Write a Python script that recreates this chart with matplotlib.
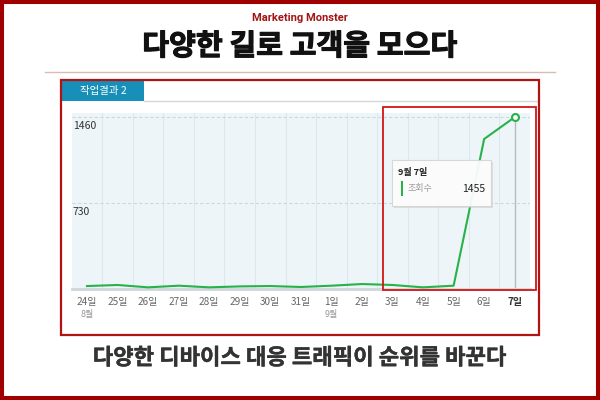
import numpy as np
import matplotlib.pyplot as plt
import matplotlib.patheffects as pe
from matplotlib.patches import Rectangle

plt.rcParams['font.family'] = ['Noto Sans CJK KR', 'DejaVu Sans']

# data
days = ['24일', '25일', '26일', '27일', '28일', '29일', '30일', '31일',
        '1일', '2일', '3일', '4일', '5일', '6일', '7일']
months = {0: '8월', 8: '9월'}
views = [25, 34, 14, 28, 14, 22, 25, 17, 28, 42, 34, 14, 28, 1270, 1455]
yticks = [730, 1460]

brand = 'Marketing Monster'
title = '다양한 길로 고객을 모으다'
subtitle = '다양한 디바이스 대응 트래픽이 순위를 바꾼다'
tab_label = '작업결과 2'
tip_date = '9월 7일'
tip_name = '조회수'

W, H = 600, 400
green = '#27b24a'
red = '#b31212'

fig = plt.figure(figsize=(6, 4), dpi=100)
fig.patch.set_facecolor('white')

# background layer in pixel coords
bg = fig.add_axes([0, 0, 1, 1], zorder=0)
bg.set_xlim(0, W)
bg.set_ylim(H, 0)
bg.axis('off')

bg.add_patch(Rectangle((0, 0), W, H, fill=False, ec='#a00000', lw=5.8))
bg.text(300, 18, brand, ha='center', va='center', color='#a31515',
        fontsize=8, fontweight='bold', family=['Roboto', 'DejaVu Sans'])
bg.text(300, 46, title, ha='center', va='center', color='#111111',
        fontsize=21, fontweight='bold',
        path_effects=[pe.withStroke(linewidth=0.8, foreground='#111111')])
bg.plot([45, 555], [72, 72], color='#d9bcb4', lw=1)
bg.text(300, 358, subtitle, ha='center', va='center', color='#333333',
        fontsize=16, fontweight='bold',
        path_effects=[pe.withStroke(linewidth=0.3, foreground='#333333')])

# tab
bg.add_patch(Rectangle((62, 81), 82, 20, color='#178fb8', lw=0))
bg.text(103, 91, tab_label, ha='center', va='center', color='white', fontsize=7.5)
bg.plot([144, 538], [101, 101], color='#d6d6d6', lw=1)

# chart
ax = fig.add_axes([71.7 / W, (H - 289) / H, (530 - 71.7) / W, (289 - 113) / H], zorder=1)
x = np.arange(len(days))
ax.set_xlim(-0.5, len(days) - 0.5)
ax.set_ylim(0, 1490)
ax.set_facecolor('#eef5f8')
for s in ['top', 'right', 'left']:
    ax.spines[s].set_visible(False)
ax.spines['bottom'].set_color('#cfd6da')
ax.spines['bottom'].set_linewidth(2)

for xv in x[:-1] + 0.5:
    ax.axvline(xv, color='#dbe8ee', lw=0.8, zorder=1)
for yv in yticks:
    ax.axhline(yv, color='#c9d9e0', lw=0.8, ls=(0, (3, 2)), zorder=1)
    ax.text(0.002, yv - 40, str(yv), transform=ax.get_yaxis_transform(),
            ha='left', va='top', fontsize=7.5, color='#333333')

ax.axvline(x[-1], color='#b4bcc0', lw=1, zorder=2)
ax.plot(x, views, color=green, lw=1.5, zorder=3)
ax.plot(x[-1], views[-1], 'o', ms=5, mfc='white', mec=green, mew=1.5, zorder=4)

ax.set_yticks([])
ax.set_xticks(x)
ax.set_xticklabels(days, fontsize=7.2, color='#666666')
ax.tick_params(axis='x', length=0, pad=6)
last = ax.get_xticklabels()[-1]
last.set_fontweight('bold')
last.set_color('#333333')
for i, m in months.items():
    ax.text(x[i], -0.145, m, transform=ax.get_xaxis_transform(),
            ha='center', va='center', fontsize=6.5, color='#9a9a9a')

# overlay layer: highlight boxes and tooltip
top = fig.add_axes([0, 0, 1, 1], zorder=2)
top.set_xlim(0, W)
top.set_ylim(H, 0)
top.axis('off')
top.patch.set_alpha(0)

top.add_patch(Rectangle((61, 80), 478, 255, fill=False, ec=red, lw=1.6))
top.add_patch(Rectangle((383, 107), 153, 183, fill=False, ec='#d41616', lw=1.3))

top.add_patch(Rectangle((394, 162), 99, 46, fc='#c8c8c8', ec='none', alpha=0.5))
top.add_patch(Rectangle((392, 160), 99, 46, fc='white', ec='#d4d4d4', lw=0.8, alpha=0.9))
top.text(398, 172, tip_date, ha='left', va='center', fontsize=6.5,
         fontweight='bold', color='#222222')
top.add_patch(Rectangle((400.5, 181), 2, 15, color=green, lw=0))
top.text(408, 189, tip_name, ha='left', va='center', fontsize=6.5, color='#9a9a9a')
top.text(485, 189, str(views[-1]), ha='right', va='center', fontsize=7.5, color='#222222')

fig.savefig('out.png', dpi=100)
